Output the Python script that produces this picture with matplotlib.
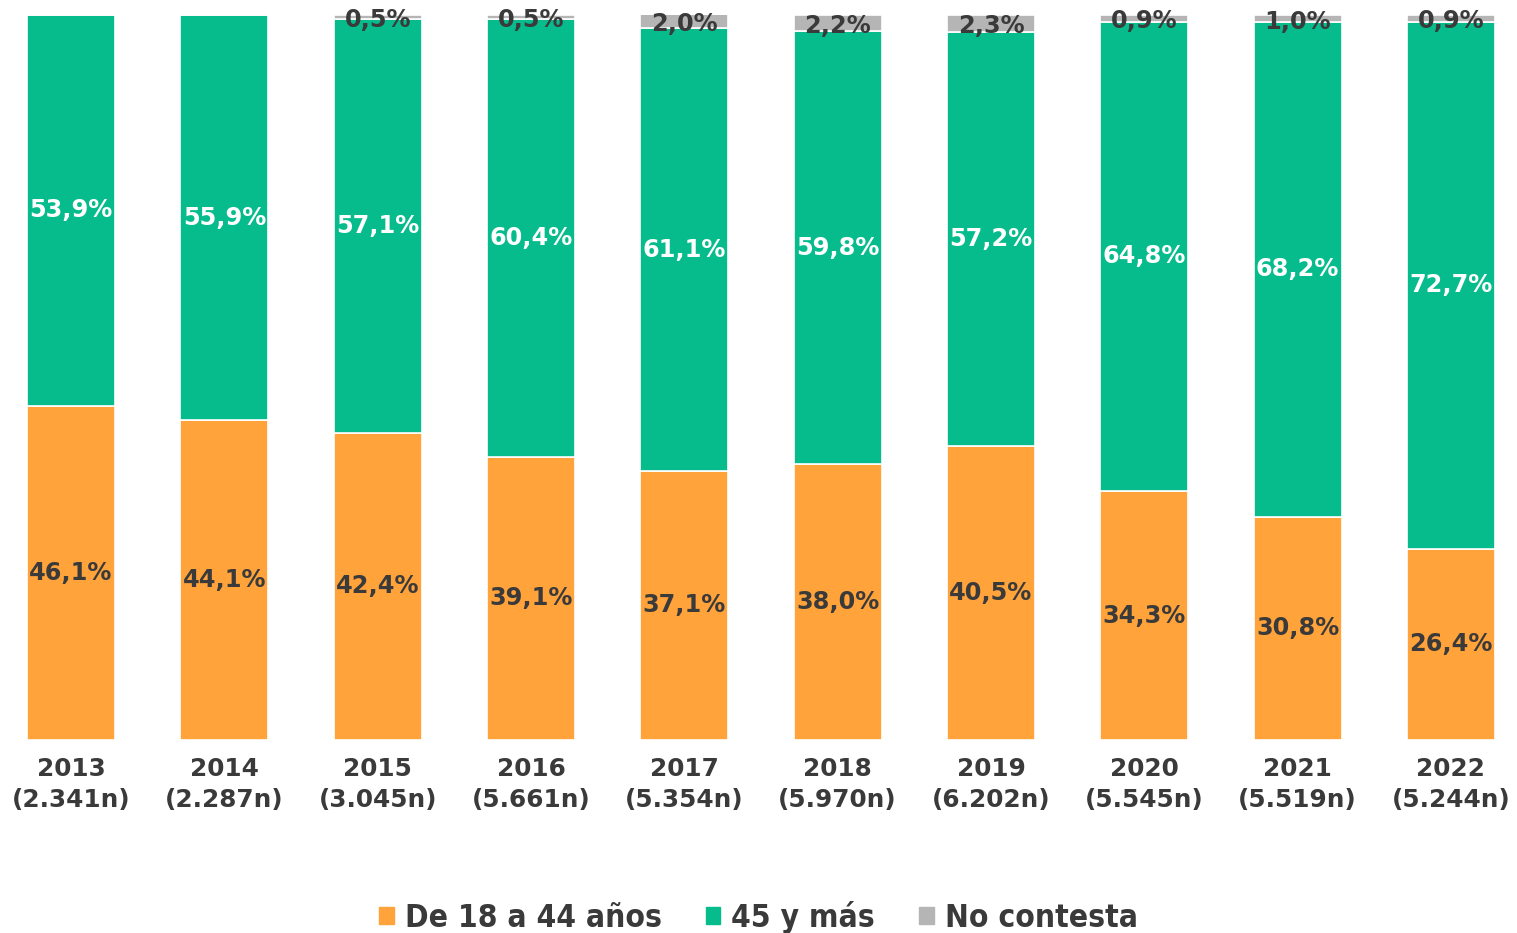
import matplotlib
matplotlib.use("Agg")
import matplotlib.pyplot as plt
import numpy as np
from matplotlib.patches import Patch

years = ["2013", "2014", "2015", "2016", "2017", "2018", "2019", "2020", "2021", "2022"]
sizes = ["2.341n", "2.287n", "3.045n", "5.661n", "5.354n", "5.970n", "6.202n", "5.545n", "5.519n", "5.244n"]
young = [46.1, 44.1, 42.4, 39.1, 37.1, 38.0, 40.5, 34.3, 30.8, 26.4]
older = [53.9, 55.9, 57.1, 60.4, 61.1, 59.8, 57.2, 64.8, 68.2, 72.7]
no_answer = [0.0, 0.0, 0.5, 0.5, 2.0, 2.2, 2.3, 0.9, 1.0, 0.9]

c_young = "#FFA33A"
c_older = "#06BC8C"
c_na = "#B5B5B5"
txt = "#3a3a3a"

fmt = lambda v: f"{v:.1f}%".replace(".", ",")

fig = plt.figure(figsize=(15.17, 9.33), dpi=100)
ax = fig.add_axes([0, 0.2069, 1, 0.777])

x = np.arange(len(years))
w = 0.574
young = np.array(young)
older = np.array(older)
no_answer = np.array(no_answer)

ax.bar(x, young, w, color=c_young, edgecolor="white", linewidth=1.2)
ax.bar(x, older, w, bottom=young, color=c_older, edgecolor="white", linewidth=1.2)
ax.bar(x, no_answer, w, bottom=young + older, color=c_na, edgecolor="white", linewidth=1.2)

for i in range(len(years)):
    ax.text(x[i], young[i] / 2, fmt(young[i]), ha="center", va="center",
            fontsize=17.3, fontweight="bold", color=txt)
    ax.text(x[i], young[i] + older[i] / 2, fmt(older[i]), ha="center", va="center",
            fontsize=17.3, fontweight="bold", color="white")
    if no_answer[i] > 0:
        ax.text(x[i], young[i] + older[i] + no_answer[i] / 2 - 0.4, fmt(no_answer[i]),
                ha="center", va="center", fontsize=17.3, fontweight="bold", color=txt)

ax.set_xlim(-0.463, 9.431)
ax.set_ylim(0, 100)
ax.set_xticks(x)
ax.set_xticklabels([f"{y}\n({s})" for y, s in zip(years, sizes)],
                   fontsize=17.8, fontweight="bold", color=txt, linespacing=1.4)
ax.tick_params(axis="x", length=0, pad=12)
ax.set_yticks([])
for s in ax.spines.values():
    s.set_visible(False)

handles = [Patch(color=c_young), Patch(color=c_older), Patch(color=c_na)]
fig.legend(handles, ["De 18 a 44 años", "45 y más", "No contesta"],
           loc="center", bbox_to_anchor=(0.5, 0.017), ncol=3, frameon=False,
           prop={"size": 22.8, "weight": "bold", "stretch": "condensed"},
           handlelength=0.45, handleheight=0.45, handletextpad=0.35, columnspacing=1.4,
           labelcolor=txt)

fig.savefig("out.png", dpi=100)
